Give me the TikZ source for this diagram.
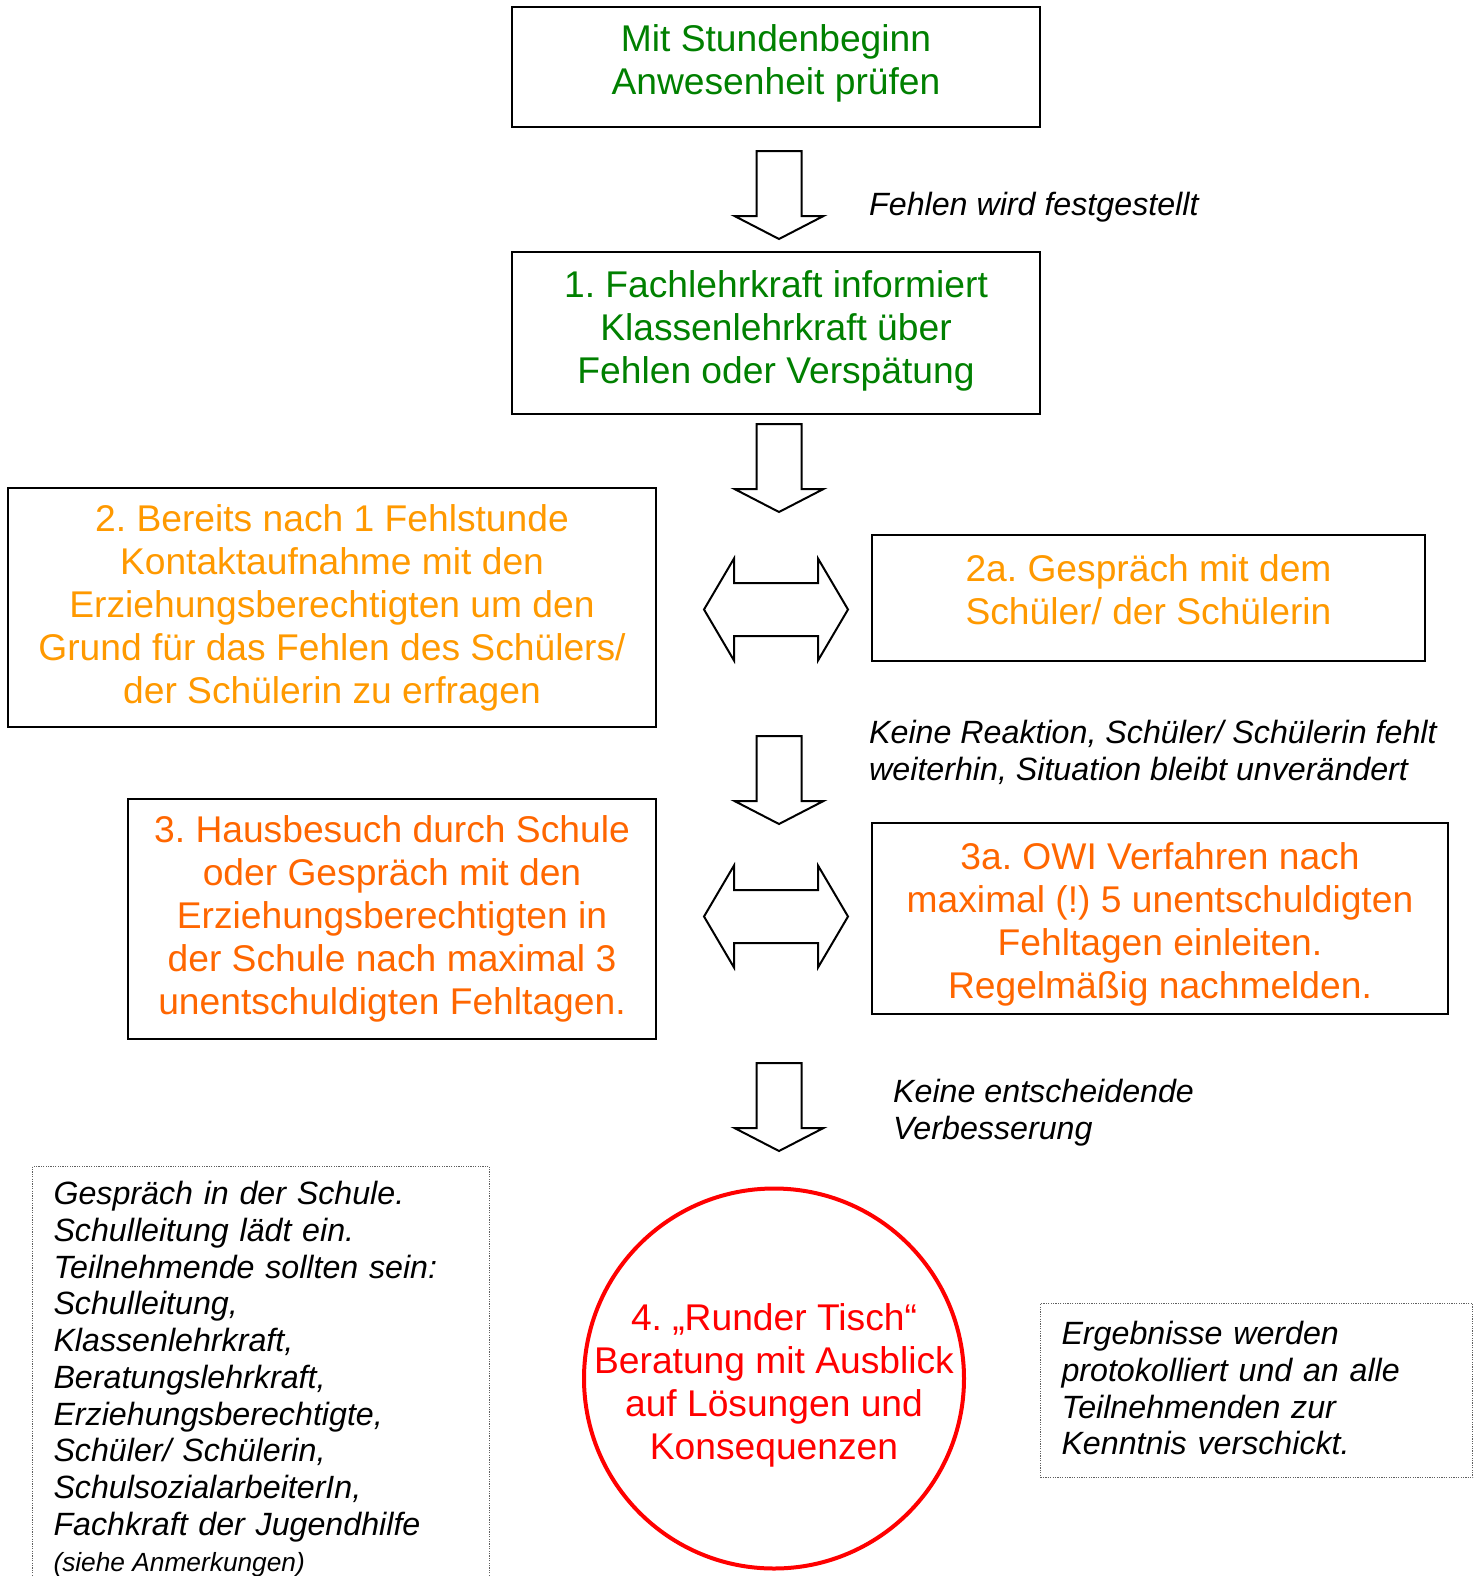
\documentclass[tikz,border=0pt]{standalone}
\usepackage{fontspec}
\setmainfont{Liberation Sans}
\frenchspacing
\definecolor{dgreen}{HTML}{008000}
\definecolor{lorange}{HTML}{FF9900}
\definecolor{dorange}{HTML}{FF6600}
\definecolor{rred}{HTML}{FF0000}
\definecolor{dotgray}{HTML}{606060}
\tikzset{
  box/.style={draw=black, line width=2pt, rectangle, inner sep=0pt, align=center,
    font=\fontsize{37.2}{43}\selectfont},
  lbl/.style={inner sep=0pt, align=left, font=\itshape\fontsize{32.2}{36.7}\selectfont},
  dotbox/.style={draw=dotgray, line width=1pt, dash pattern=on 1.2pt off 1.2pt, rectangle,
    align=left, inner xsep=21pt, font=\itshape\fontsize{32.2}{36.7}\selectfont},
  blockarrow/.style={draw=black, line width=2pt, fill=white, line join=miter},
  downarr/.pic={\draw[blockarrow] (-22.5,0) -- (22.5,0) -- (22.5,65) -- (44.5,65) -- (0,88)
      -- (-44.5,65) -- (-22.5,65) -- cycle;},
  dblarr/.pic={\draw[blockarrow] (-72,0) -- (-42,-51) -- (-42,-26.5) -- (42,-26.5) -- (42,-51)
      -- (72,0) -- (42,51) -- (42,26.5) -- (-42,26.5) -- (-42,51) -- cycle;}
}
\newcommand\dn[1]{\rule[-#1pt]{0pt}{#1pt}}
\newcommand\up[1]{\rule{0pt}{#1pt}}
\begin{document}
\begin{tikzpicture}[x=1pt,y=-1pt]
\useasboundingbox (0,0) rectangle (1478,1576);

% boxes
\node[box, text=dgreen, minimum width=528, minimum height=120] (b0) at (776,67)
  {Mit Stundenbeginn\\Anwesenheit prüfen\dn{14}};
\node[box, text=dgreen, minimum width=528, minimum height=162] (b1) at (776,333)
  {1. Fachlehrkraft informiert\\Klassenlehrkraft über\\Fehlen oder Verspätung\dn{12}};
\node[box, text=lorange, minimum width=648, minimum height=239] (b2) at (332,607.5)
  {2. Bereits nach 1 Fehlstunde\\Kontaktaufnahme mit den\\Erziehungsberechtigten um den\\Grund für das Fehlen des Schülers/\\der Schülerin zu erfragen};
\node[box, text=lorange, minimum width=553, minimum height=126] (b2a) at (1148.5,598)
  {2a. Gespräch mit dem\\Schüler/ der Schülerin\dn{17}};
\node[box, text=dorange, minimum width=528, minimum height=240] (b3) at (392,919)
  {3. Hausbesuch durch Schule\\oder Gespräch mit den\\Erziehungsberechtigten in\\der Schule nach maximal 3\\unentschuldigten Fehltagen.};
\node[box, text=dorange, minimum width=576, minimum height=191] (b3a) at (1160,918.5)
  {\up{39}3a. OWI Verfahren nach\\maximal (!) 5 unentschuldigten\\Fehltagen einleiten.\\Regelmäßig nachmelden.};
\node[circle, draw=rred, line width=4pt, text=rred, minimum size=380, inner sep=-40pt,
  align=center, font=\fontsize{37.2}{43}\selectfont] (b4) at (774,1378.5)
  {\up{40}4. „Runder Tisch“\\Beratung mit Ausblick\\auf Lösungen und\\Konsequenzen};

% arrows
\coordinate (a1) at (779,151);
\coordinate (a2) at (779,424);
\coordinate (a3) at (779,736);
\coordinate (a4) at (779,1063);
\pic at (a1) {downarr};
\pic at (a2) {downarr};
\pic at (a3) {downarr};
\pic at (a4) {downarr};
\coordinate (d1) at (776,609.5);
\coordinate (d2) at (776,916.5);
\pic at (d1) {dblarr};
\pic at (d2) {dblarr};

% labels
\node[lbl, anchor=west] (l1) at (869,207) {Fehlen wird festgestellt};
\node[lbl, anchor=west] (l2) at (869,752.5) {Keine Reaktion, Schüler/ Schülerin fehlt\\weiterhin, Situation bleibt unverändert};
\node[lbl, anchor=west] (l3) at (893,1112.5) {Keine entscheidende\\Verbesserung};

% dotted boxes
\node[dotbox, anchor=north west, text width=415, inner ysep=15pt] (n1) at (32,1166)
  {Gespräch in der Schule.\\Schulleitung lädt ein.\\Teilnehmende sollten sein:\\Schulleitung,\\Klassenlehrkraft,\\Beratungslehrkraft,\\Erziehungsberechtigte,\\Schüler/ Schülerin,\\SchulsozialarbeiterIn,\\Fachkraft der Jugendhilfe\\{\fontsize{26.3}{35.2}\selectfont\spaceskip=0pt\relax (siehe Anmerkungen)}\dn{60}};
\node[dotbox, anchor=north west, text width=390, inner ysep=18pt] (n2) at (1040,1303)
  {Ergebnisse werden\\protokolliert und an alle\\Teilnehmenden zur\\Kenntnis verschickt.\dn{5}};
\end{tikzpicture}
\end{document}
